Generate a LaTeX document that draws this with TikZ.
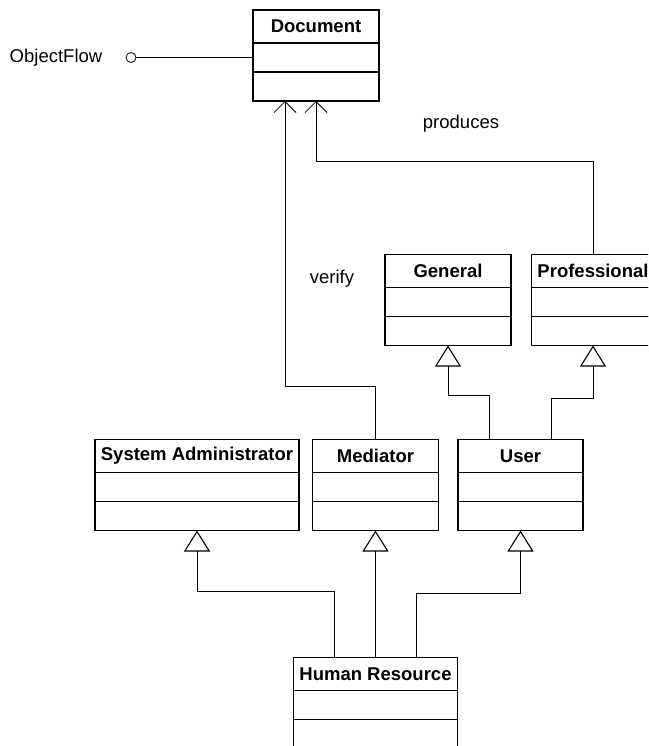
\documentclass[tikz,border=0pt]{standalone}
\usepackage{fontspec}
\setmainfont{Liberation Sans}
\usetikzlibrary{arrows.meta}

\begin{document}
\begin{tikzpicture}
[x=1pt,y=-1pt,font=\fontsize{18.5}{21}\selectfont]
\tikzset{cls/.style={draw,line width=1.2pt,minimum width=#1,minimum height=33pt,inner sep=0pt,outer sep=0pt,font=\fontsize{18.5}{21}\selectfont\bfseries}}
\tikzset{comp/.style={draw,line width=1.2pt,minimum width=#1,minimum height=29pt,inner sep=0pt,outer sep=0pt,anchor=north}}
\tikzset{dep/.style={line width=0.8pt,-{Straight Barb[length=11pt,width=22pt,line width=0.8pt]}}}
\tikzset{gen/.style={line width=0.8pt,-{Triangle[open,length=21pt,width=26pt,line width=1.1pt]}}}
\useasboundingbox (0,0) rectangle (648,746);
\clip (0,0) rectangle (648,746);

\foreach \n/\x/\y/\w/\t in {doc/316/26.5/126/Document,gen/448/271/126/General,prof/593/271/123/Professional,
	sys/197/456/204/System Administrator,med/375.5/456/126/Mediator,user/520.5/456/125/User,hr/375.5/674/164/Human Resource}
{
	\node [cls=\w pt] (\n) at (\x,\y) {\t};
	\node [comp=\w pt] (\n1) at (\n.south) {};
	\node [comp=\w pt] (\n2) at (\n1.south) {};
}

\node (of) at (56,57.5) {ObjectFlow};
\node [circle,draw,line width=0.8pt,minimum size=10pt,inner sep=0pt] (ofpin) at (131,57.5) {};
\draw [line width=0.8pt] (ofpin) -- (doc1.west);

\node (prod) at (461,124) {produces};
\node (ver) at (332,279) {verify};

\draw [dep] (med.north) -- ++(0,-53) -| ([xshift=-31pt]doc2.south);
\draw [dep] (prof.north) -- ++(0,-93) -| (doc2.south);

\draw [gen] ([xshift=-31pt]user.north) -- ++(0,-44) -| (gen2.south);
\draw [gen] ([xshift=31pt]user.north) -- ++(0,-41) -| (prof2.south);

\draw [gen] ([xshift=-41pt]hr.north) -- ++(0,-66) -| (sys2.south);
\draw [gen] (hr.north) -- (med2.south);
\draw [gen] ([xshift=41pt]hr.north) -- ++(0,-64) -| (user2.south);

\end{tikzpicture}
\end{document}
